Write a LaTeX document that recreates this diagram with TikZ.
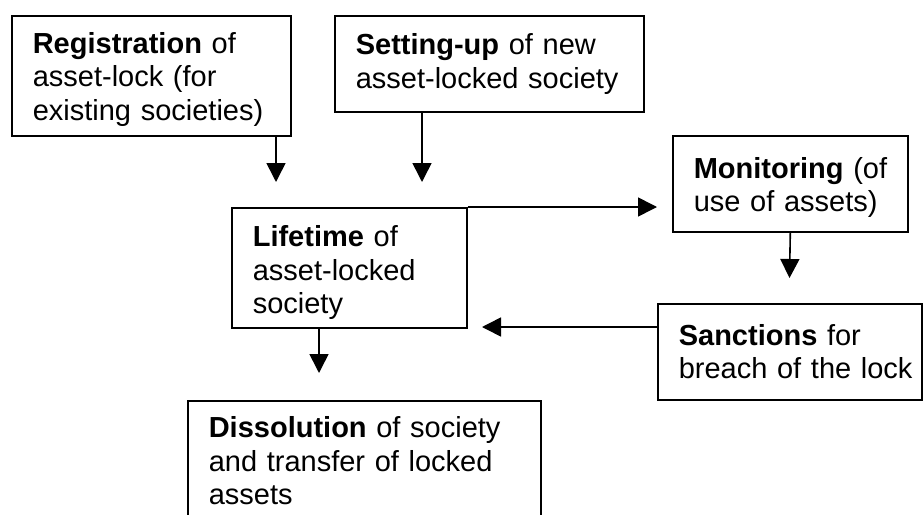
\documentclass[tikz,border=0pt]{standalone}
\usepackage{fontspec}
\setmainfont{Liberation Sans}
\usetikzlibrary{arrows.meta}
\tikzset{
  box/.style={draw=black, line width=1.6pt, rectangle, anchor=north west,
    inner xsep=21pt, inner ysep=0pt, align=left,
    font=\fontsize{29}{33.5}\selectfont},
  arr/.style={draw=black, line width=1.6pt, -{Triangle[length=19pt,width=19pt]}}
}
\begin{document}
\begin{tikzpicture}[x=1pt,y=-1pt]
\useasboundingbox (0,0) rectangle (923,514);
\fill[white] (0,0) rectangle (923,514);
\clip (0,0) rectangle (923,514);

\node[box, minimum width=279pt, minimum height=120pt, text width=237pt] (reg) at (11,15)
  {\mbox{\rule{0pt}{28pt}\textbf{Registration} of}\\\mbox{asset-lock (for}\\\mbox{existing societies)}};
\node[box, minimum width=309pt, minimum height=96pt, text width=267pt] (setup) at (334,15)
  {\mbox{\textbf{Setting-up} of new}\\\mbox{asset-locked society}};
\node[box, minimum width=235pt, minimum height=120pt, text width=193pt] (life) at (231,207)
  {\mbox{\rule{0pt}{31pt}\textbf{Lifetime} of}\\\mbox{asset-locked}\\\mbox{society}};
\node[box, minimum width=235pt, minimum height=96pt, text width=193pt] (mon) at (672,135)
  {\mbox{\rule{0pt}{28pt}\textbf{Monitoring} (of}\\\mbox{use of assets)}};
\node[box, minimum width=264pt, minimum height=96pt, text width=222pt] (sanc) at (657,303)
  {\mbox{\textbf{Sanctions} for}\\\mbox{breach of the lock}};
\node[box, minimum width=353pt, minimum height=120pt, text width=311pt] (diss) at (187,400)
  {\mbox{\textbf{Dissolution} of society}\\\mbox{and transfer of locked}\\\mbox{assets}};

\coordinate (a1e) at (276,182);
\coordinate (a2e) at (422,182);
\coordinate (a3e) at (657,207);
\coordinate (a4e) at (789.5,278);
\coordinate (a5e) at (482,327);
\coordinate (a6e) at (319,373);

\draw[arr] (reg.south -| a1e) -- (a1e);
\draw[arr] (setup.south -| a2e) -- (a2e);
\draw[arr] (life.north east) -- (a3e);
\draw[arr] (mon.south) -- (a4e);
\draw[arr] (sanc.west |- a5e) -- (a5e);
\draw[arr] (life.south -| a6e) -- (a6e);
\end{tikzpicture}
\end{document}
